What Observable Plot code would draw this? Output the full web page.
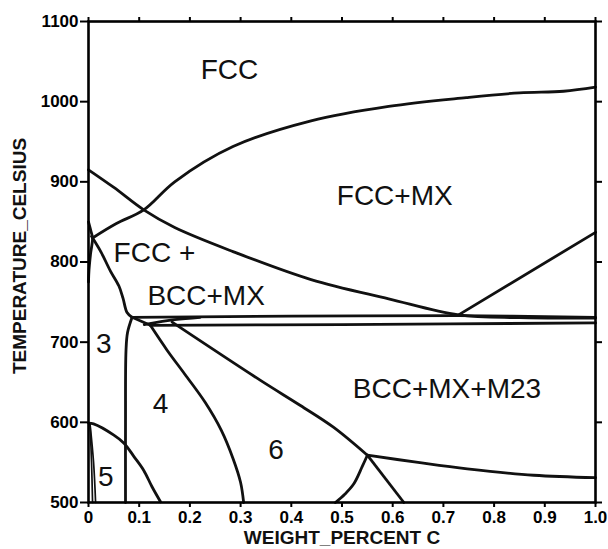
<!DOCTYPE html>
<html><head><meta charset="utf-8">
<script src="https://cdn.jsdelivr.net/npm/d3@7"></script>
<script src="https://cdn.jsdelivr.net/npm/@observablehq/plot@0.6"></script>
<style>body{margin:0;background:#fff} svg{display:block}</style>
</head><body><div id="chart"></div>
<script>
// Axis ticks
const xTicks = [0, 0.1, 0.2, 0.3, 0.4, 0.5, 0.6, 0.7, 0.8, 0.9, 1.0];
const xTickLabels = ["0", "0.1", "0.2", "0.3", "0.4", "0.5", "0.6", "0.7", "0.8", "0.9", "1.0"];
const yTicks = [500, 600, 700, 800, 900, 1000, 1100];
const yTickLabels = ["500", "600", "700", "800", "900", "1000", "1100"];

// Phase boundaries: [weight % C, temperature °C]
const fccSolvus = [[0.008,830],[0.055,848],[0.109,865],[0.17,900],[0.285,944],[0.439,976],[0.592,994],[0.745,1005],[0.85,1011],[0.937,1013],[1.0,1018]];
const a3Line = [[0,915],[0.05,893],[0.109,865],[0.17,843],[0.285,813],[0.439,778],[0.592,754],[0.73,734],[0.85,730.5],[1.0,730]];
const acmLine = [[0.73,734],[1.0,837]];
const upperEutectoid = [[0.086,731],[0.4,732.5],[0.73,733],[1.0,731]];
const lowerEutectoid = [[0.122,721],[0.5,722],[1.0,724]];
const wedgeLine = [[0.11,722],[0.17,728],[0.22,731]];
const fccBccLine = [[0.006,832],[0.025,812],[0.043,789],[0.06,770],[0.068,755],[0.076,737],[0.086,731]];
const nearZeroLoop = [[0,850],[0.005,838],[0.008,830],[0.004,810],[0.001,790],[0,775]];
const vertLine = [[0.086,731],[0.077,712],[0.074,690],[0.073,600],[0.073,500]];
const cornerLine = [[0.086,731],[0.122,721]];
const boundary46 = [[0.122,721],[0.155,690],[0.19,660],[0.23,625],[0.262,590],[0.285,555],[0.30,525],[0.306,500]];
const boundary6M23 = [[0.165,725],[0.34,652],[0.418,621],[0.483,594],[0.55,559]];
const rightLow = [[0.55,559],[0.65,550],[0.747,542],[0.878,534],[1.0,531]];
const apexDownRight = [[0.55,559],[0.622,500]];
const apexDownLeft = [[0.55,559],[0.54,545],[0.523,523],[0.505,510],[0.487,500]];
const region5Line = [[0,599],[0.01,598],[0.05,584],[0.07,574],[0.09,557],[0.109,540],[0.125,520],[0.142,501]];
const thinLineA = [[0.003,598],[0.006,550],[0.008,500]];
const thinLineB = [[0.003,598],[0.01,550],[0.014,500]];

// Region labels
const labelText = ["FCC", "FCC+MX", "FCC +", "BCC+MX", "3", "4", "5", "6", "BCC+MX+M23"];
const labelX = [0.278, 0.604, 0.130, 0.232, 0.030, 0.142, 0.034, 0.37, 0.707];
const labelT = [1040, 882, 811, 758, 698, 623, 532, 566, 642];

const xTitle = "WEIGHT_PERCENT C";
const yTitle = "TEMPERATURE_CELSIUS";

const mainLines = {fccSolvus, a3Line, acmLine, upperEutectoid, lowerEutectoid, wedgeLine, fccBccLine, nearZeroLoop, vertLine, cornerLine, boundary46, boundary6M23, rightLow, apexDownRight, apexDownLeft, region5Line};
const thinLines = {thinLineA, thinLineB};
const toRows = obj => Object.entries(obj).flatMap(([name, pts]) => pts.map(([x, t]) => ({name, x, t})));
const mainRows = toRows(mainLines);
const thinRows = toRows(thinLines);
const labels = labelText.map((text, i) => ({text, x: labelX[i], t: labelT[i]}));

const fmtX = d => xTickLabels[Math.round(d * 10)];
const fmtY = d => yTickLabels[yTicks.indexOf(d)];

const chart = Plot.plot({
  width: 608, height: 549,
  marginLeft: 88, marginRight: 13, marginTop: 21, marginBottom: 47,
  x: {domain: [0, 1]},
  y: {domain: [500, 1100]},
  style: {fontFamily: "'Liberation Sans', Arial, sans-serif", background: "#fff", color: "#000"},
  marks: [
    Plot.line(mainRows, {x: "x", y: "t", z: "name", stroke: "#111", strokeWidth: 2.8, curve: "catmull-rom"}),
    Plot.line(thinRows, {x: "x", y: "t", z: "name", stroke: "#111", strokeWidth: 1.7, curve: "catmull-rom"}),
    Plot.frame({stroke: "#000", strokeWidth: 2.6}),
    Plot.axisX({ticks: xTicks, tickFormat: fmtX, tickSize: 5, tickPadding: 3, fontSize: 17, fontWeight: "bold", strokeWidth: 2, label: null}),
    Plot.axisX({anchor: "top", ticks: xTicks, tickFormat: () => "", tickSize: 5, strokeWidth: 2, label: null}),
    Plot.axisY({ticks: yTicks, tickFormat: fmtY, tickSize: 8, tickPadding: 2, fontSize: 17, fontWeight: "bold", strokeWidth: 2, label: null}),
    Plot.axisY({anchor: "right", ticks: yTicks, tickFormat: () => "", tickSize: 6, strokeWidth: 2, label: null}),
    Plot.text(labels, {x: "x", y: "t", text: "text", fontSize: 28, fill: "#111"}),
    Plot.text([xTitle], {frameAnchor: "bottom", textAnchor: "middle", lineAnchor: "middle", dy: 35, fontSize: 19, fontWeight: "bold", fill: "#111"}),
    Plot.text([yTitle], {frameAnchor: "left", textAnchor: "middle", lineAnchor: "middle", dx: -69, dy: -6, rotate: -90, fontSize: 19, fontWeight: "bold", fill: "#111"})
  ]
});
document.getElementById("chart").appendChild(chart);
</script>
</body></html>
